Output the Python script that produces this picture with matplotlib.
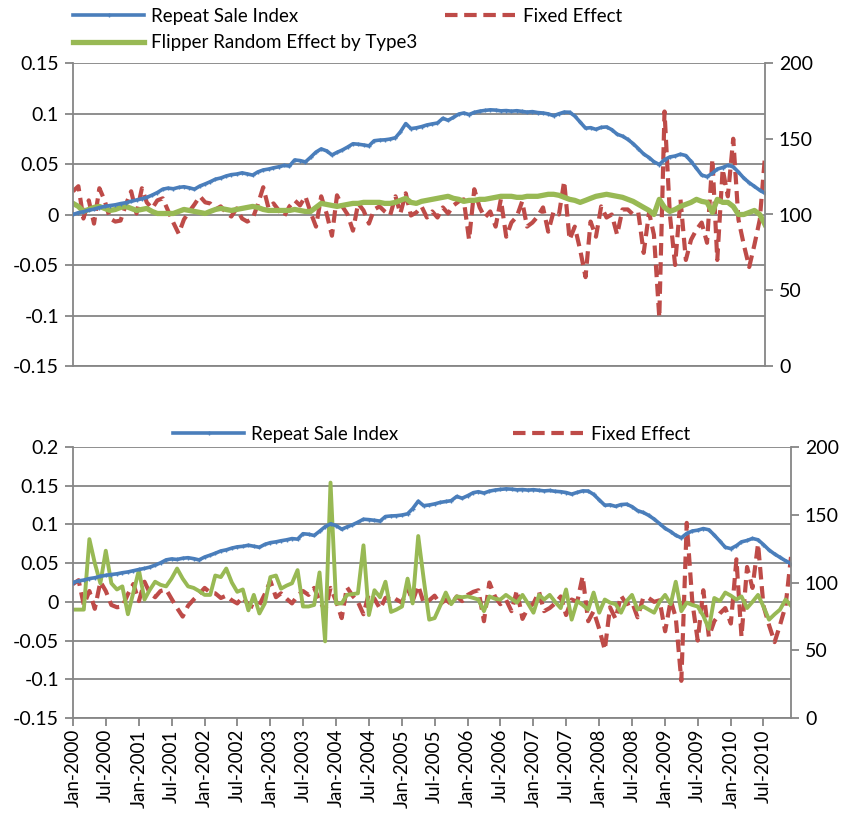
import numpy as np
import pandas as pd
import matplotlib
matplotlib.use("Agg")
import matplotlib.pyplot as plt
import matplotlib.dates as mdates
from matplotlib.ticker import FuncFormatter, FixedLocator

plt.rcParams['font.family'] = ['Lato', 'DejaVu Sans']

#%% data, monthly Jan-2000 .. Dec-2010
months = pd.date_range('2000-01-01', periods=132, freq='MS')

# repeat sale index (right axis)
repeat_sale_index = [
    100.0, 101.2, 101.8, 102.9, 103.5, 104.6, 105.3, 105.9, 106.4, 107.2, 107.8, 108.7,
    109.6, 110.4, 111.3, 112.8, 114.5, 116.7, 117.4, 117.0, 117.9, 118.3, 117.6, 116.7,
    118.8, 120.2, 121.6, 123.3, 124.1, 125.4, 126.3, 126.7, 127.5, 126.8, 126.0, 128.1,
    129.4, 130.0, 130.8, 131.5, 132.4, 132.0, 136.0, 135.6, 134.7, 137.8, 141.2, 143.3,
    142.0, 139.3, 141.0, 142.6, 144.5, 146.7, 146.4, 145.9, 145.3, 148.7, 149.1, 149.3,
    149.8, 150.7, 154.5, 160.0, 156.7, 157.2, 158.0, 159.1, 159.8, 160.4, 163.5, 162.2,
    164.1, 166.3, 167.0, 166.0, 167.4, 168.2, 168.7, 169.1, 168.9, 168.4, 168.6, 168.2,
    168.5, 168.0, 167.6, 167.9, 167.3, 167.0, 166.4, 165.2, 166.5, 167.6, 167.5, 165.0,
    161.0, 157.0, 157.3, 156.2, 157.5, 157.8, 156.0, 153.0, 151.7, 149.6, 146.8, 143.5,
    139.9, 137.6, 134.8, 133.0, 136.2, 138.0, 138.6, 139.8, 138.9, 135.0, 130.5, 126.0,
    125.0, 127.2, 130.0, 131.0, 132.5, 131.5, 128.0, 124.0, 121.0, 118.5, 116.0, 114.0]

# fixed effect (left axis), same in both panels
fixed_effect = [
    0.023, 0.028, -0.004, 0.014, -0.009, 0.026, 0.014, -0.004, -0.007, -0.006, 0.010, 0.023,
    0.001, 0.026, 0.012, 0.006, 0.014, 0.016, 0.004, -0.008, -0.019, -0.005, 0.003, 0.010,
    0.018, 0.012, 0.011, 0.005, 0.008, 0.002, -0.002, 0.006, -0.004, -0.007, -0.004, 0.010,
    0.027, 0.006, 0.011, 0.004, -0.002, 0.008, 0.014, 0.009, 0.018, 0.002, -0.012, 0.018,
    0.001, -0.021, 0.019, 0.008, 0.000, -0.016, 0.011, 0.004, -0.009, 0.005, 0.008, 0.003,
    -0.001, 0.018, 0.001, 0.021, -0.001, 0.002, 0.008, -0.003, 0.003, -0.003, 0.007, 0.001,
    0.009, 0.013, 0.015, -0.025, 0.025, 0.007, -0.003, 0.003, -0.012, 0.015, -0.022, -0.008,
    -0.002, 0.013, -0.012, -0.008, -0.002, 0.007, -0.017, 0.003, 0.000, 0.033, -0.025, -0.012,
    -0.035, -0.062, -0.007, -0.022, 0.008, -0.003, 0.000, -0.020, 0.005, 0.005, 0.000, 0.002,
    -0.038, 0.002, -0.020, -0.102, 0.102, 0.000, -0.050, 0.015, -0.045, -0.025, -0.015, -0.008,
    -0.028, 0.055, -0.045, 0.045, 0.018, 0.075, -0.005, -0.030, -0.052, -0.030, -0.005, 0.058]

# flipper random effect by type3 (top panel)
flipper_type3 = [
    0.011, 0.008, 0.003, 0.005, 0.007, 0.008, 0.006, 0.004, 0.005, 0.007, 0.008, 0.006,
    0.004, 0.005, 0.006, 0.003, 0.001, 0.001, 0.001, 0.001, 0.003, 0.005, 0.004, 0.003,
    0.002, 0.001, 0.003, 0.005, 0.006, 0.005, 0.004, 0.005, 0.006, 0.007, 0.008, 0.007,
    0.005, 0.004, 0.004, 0.004, 0.004, 0.004, 0.005, 0.004, 0.003, 0.003, 0.007, 0.011,
    0.010, 0.009, 0.008, 0.009, 0.010, 0.011, 0.011, 0.012, 0.012, 0.012, 0.012, 0.011,
    0.011, 0.012, 0.014, 0.016, 0.012, 0.011, 0.013, 0.014, 0.015, 0.016, 0.017, 0.018,
    0.016, 0.015, 0.013, 0.014, 0.014, 0.015, 0.015, 0.016, 0.017, 0.018, 0.018, 0.018,
    0.017, 0.017, 0.018, 0.018, 0.018, 0.019, 0.020, 0.020, 0.019, 0.017, 0.015, 0.014,
    0.012, 0.014, 0.016, 0.018, 0.019, 0.020, 0.019, 0.018, 0.017, 0.015, 0.013, 0.010,
    0.007, 0.004, 0.000, 0.015, 0.007, 0.003, 0.005, 0.008, 0.010, 0.012, 0.015, 0.013,
    0.012, 0.002, 0.015, 0.012, 0.012, 0.008, 0.000, 0.000, 0.002, 0.004, 0.000, -0.010]

# green series of the lower panel (not in its legend)
flipper_lower = [
    -0.010, -0.010, -0.010, 0.081, 0.050, 0.024, 0.066, 0.024, 0.016, 0.020, -0.016, 0.012,
    0.041, 0.003, 0.015, 0.026, 0.022, 0.020, 0.030, 0.043, 0.030, 0.020, 0.018, 0.014,
    0.009, 0.009, 0.034, 0.032, 0.043, 0.025, 0.013, 0.016, -0.011, 0.009, -0.015, -0.002,
    0.032, 0.034, 0.017, 0.021, 0.024, 0.041, -0.006, -0.006, -0.004, 0.038, -0.051, 0.154,
    -0.002, -0.002, 0.009, 0.010, 0.011, 0.073, -0.017, 0.015, 0.006, 0.026, -0.013, -0.010,
    -0.006, 0.030, -0.002, 0.085, 0.030, -0.023, -0.021, -0.005, 0.012, -0.003, 0.007, 0.006,
    0.007, 0.005, 0.003, -0.012, 0.007, 0.004, 0.003, 0.009, 0.004, -0.001, 0.009, -0.002,
    -0.014, 0.009, 0.003, 0.009, 0.000, -0.008, 0.016, -0.023, 0.001, -0.004, -0.010, 0.012,
    -0.014, 0.003, -0.001, -0.003, -0.014, 0.001, 0.009, -0.010, -0.006, -0.010, -0.014, 0.000,
    0.009, -0.003, 0.026, -0.012, -0.001, -0.004, -0.006, -0.018, -0.035, 0.005, 0.001, 0.012,
    0.008, 0.003, 0.007, -0.008, 0.000, 0.009, -0.006, -0.023, -0.016, -0.010, 0.003, -0.005]

top_left_ticks = [-0.15, -0.1, -0.05, 0, 0.05, 0.1, 0.15]
bottom_left_ticks = [-0.15, -0.1, -0.05, 0, 0.05, 0.1, 0.15, 0.2]
right_ticks = [0, 50, 100, 150, 200]

#%% styling
BLUE = '#4A7EBB'
RED = '#BE4B48'
GREEN = '#98B954'
GREY = '#868686'
W, H = 846, 813


def fmt_left(v, pos):
    return f'{round(v, 2) + 0.0:g}'


def style_axes(ax, axr, lticks):
    ax.set_ylim(lticks[0], lticks[-1])
    ax.yaxis.set_major_locator(FixedLocator(lticks))
    ax.yaxis.set_major_formatter(FuncFormatter(fmt_left))
    ax.yaxis.grid(True, color=GREY, lw=1.3)
    ax.set_axisbelow(True)
    axr.set_ylim(0, 200)
    axr.yaxis.set_major_locator(FixedLocator(right_ticks))
    for s in ['top', 'right']:
        ax.spines[s].set_visible(False)
    for s in ['top', 'left', 'bottom']:
        axr.spines[s].set_visible(False)
    for s in ['left', 'bottom']:
        ax.spines[s].set_color(GREY)
        ax.spines[s].set_linewidth(1.3)
    axr.spines['right'].set_color(GREY)
    axr.spines['right'].set_linewidth(1.3)
    ax.tick_params(axis='y', direction='out', length=6, width=1.3, color=GREY,
                   labelsize=14, pad=4)
    axr.tick_params(axis='y', direction='out', length=6, width=1.3, color=GREY,
                    labelsize=14, pad=4)
    ax.set_xlim(months[0], months[-1])


fig = plt.figure(figsize=(W / 100, H / 100), dpi=100)

#%% top panel
ax1 = fig.add_axes([73 / W, 1 - 366 / H, 692 / W, 303 / H])
ax1r = ax1.twinx()
style_axes(ax1, ax1r, top_left_ticks)
ax1.tick_params(axis='x', bottom=False, labelbottom=False)

l_fix, = ax1.plot(months, fixed_effect, color=RED, lw=3.0, ls=(0, (3, 1.6)),
                  dash_joinstyle='round')
l_flip, = ax1.plot(months, flipper_type3, color=GREEN, lw=3.8,
                   solid_joinstyle='round')
l_rsi, = ax1r.plot(months, repeat_sale_index, color=BLUE, lw=2.6,
                   marker='+', ms=3, mew=1, solid_joinstyle='round')

leg_kw = dict(frameon=False, fontsize=13.5, handlelength=3.8, handletextpad=0.35,
              labelspacing=0.5, borderaxespad=0, borderpad=0)
fig.legend([l_rsi, l_flip], ['Repeat Sale Index', 'Flipper Random Effect by Type3'],
           loc='upper left', bbox_to_anchor=(73 / W, 1 - 8 / H), **leg_kw)
fig.legend([l_fix], ['Fixed Effect'],
           loc='upper left', bbox_to_anchor=(445 / W, 1 - 8 / H), **leg_kw)

#%% bottom panel
ax2 = fig.add_axes([73 / W, 1 - 718 / H, 718 / W, 271 / H])
ax2r = ax2.twinx()
style_axes(ax2, ax2r, bottom_left_ticks)

m_fix, = ax2.plot(months, fixed_effect, color=RED, lw=3.0, ls=(0, (3, 1.6)),
                  dash_joinstyle='round')
ax2.plot(months, flipper_lower, color=GREEN, lw=2.8, solid_joinstyle='round')
m_rsi, = ax2r.plot(months, repeat_sale_index, color=BLUE, lw=2.6,
                   marker='+', ms=3, mew=1, solid_joinstyle='round')

ax2.xaxis.set_major_locator(mdates.MonthLocator(bymonth=(1, 7)))
ax2.xaxis.set_major_formatter(mdates.DateFormatter('%b-%Y'))
ax2.tick_params(axis='x', direction='out', length=6, width=1.3, color=GREY,
                labelsize=13.5, labelrotation=90, pad=2)

fig.legend([m_rsi], ['Repeat Sale Index'],
           loc='upper left', bbox_to_anchor=(173 / W, 1 - 426 / H), **leg_kw)
fig.legend([m_fix], ['Fixed Effect'],
           loc='upper left', bbox_to_anchor=(513 / W, 1 - 426 / H), **leg_kw)

fig.savefig('out.png', dpi=100)
